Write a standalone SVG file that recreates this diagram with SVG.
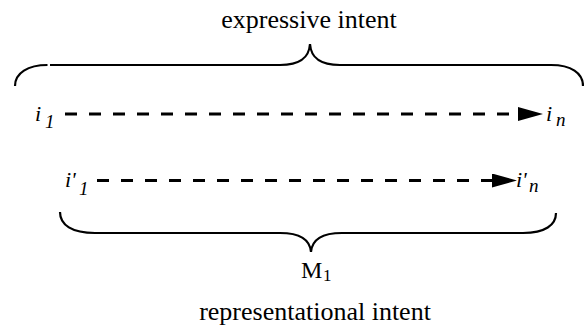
<svg xmlns="http://www.w3.org/2000/svg" width="584" height="326" viewBox="0 0 584 326">
  <style>
    .lbl { font-family: "Liberation Serif", "Times New Roman", serif; fill: #000; }
    .it { font-style: italic; }
    .brace { fill: none; stroke: #000; stroke-width: 2.2; }
    .dash { fill: none; stroke: #000; stroke-width: 3; stroke-dasharray: 12 12; }
  </style>
  <defs>
    <marker id="arrow" viewBox="0 0 25 14" refX="0" refY="7" markerWidth="25" markerHeight="14" markerUnits="userSpaceOnUse" orient="auto">
      <path d="M0,0 L25,7 L0,14 Z" fill="#000"/>
    </marker>
  </defs>
  <rect width="584" height="326" fill="#fff"/>

  <g id="expressive-intent">
    <text class="lbl" x="309" y="28" font-size="26" text-anchor="middle">expressive intent</text>
  </g>

  <g id="top-brace">
    <path class="brace" d="M15,86 C15,73 28,65 47.5,65"/>
    <path class="brace" d="M50,65 L280,65 C300,65 309,58 310,44 C311,58 320,65 340,65 L551,65 C571,65 583,73 583,86"/>
  </g>

  <g id="i1">
    <text class="lbl it" x="35" y="121" font-size="22">i</text>
    <text class="lbl it" x="45" y="128" font-size="19">1</text>
  </g>
  <g id="in">
    <text class="lbl it" x="546" y="121" font-size="22">i</text>
    <text class="lbl it" x="556" y="126" font-size="19">n</text>
  </g>
  <g id="ip1">
    <text class="lbl it" x="65" y="187" font-size="22">i'</text>
    <text class="lbl it" x="79" y="195" font-size="19">1</text>
  </g>
  <g id="ipn">
    <text class="lbl it" x="516" y="187" font-size="22">i'</text>
    <text class="lbl it" x="529" y="192" font-size="19">n</text>
  </g>

  <g id="connectors">
    <line class="dash" x1="65" y1="114" x2="518" y2="114" marker-end="url(#arrow)"/>
    <line class="dash" x1="97" y1="180.5" x2="492" y2="180.5" marker-end="url(#arrow)"/>
  </g>

  <g id="bottom-brace">
    <path class="brace" d="M60,212 C60,225 72,233 95,233 L280,233 C300,233 310,240 311,252 C312,240 322,233 342,233 L523,233 C545,233 556,225 556,213"/>
  </g>

  <g id="M1">
    <text class="lbl" x="301" y="278" font-size="24">M</text>
    <text class="lbl" x="323" y="281" font-size="17">1</text>
  </g>

  <g id="representational-intent">
    <text class="lbl" x="315" y="320" font-size="26" text-anchor="middle">representational intent</text>
  </g>
</svg>
